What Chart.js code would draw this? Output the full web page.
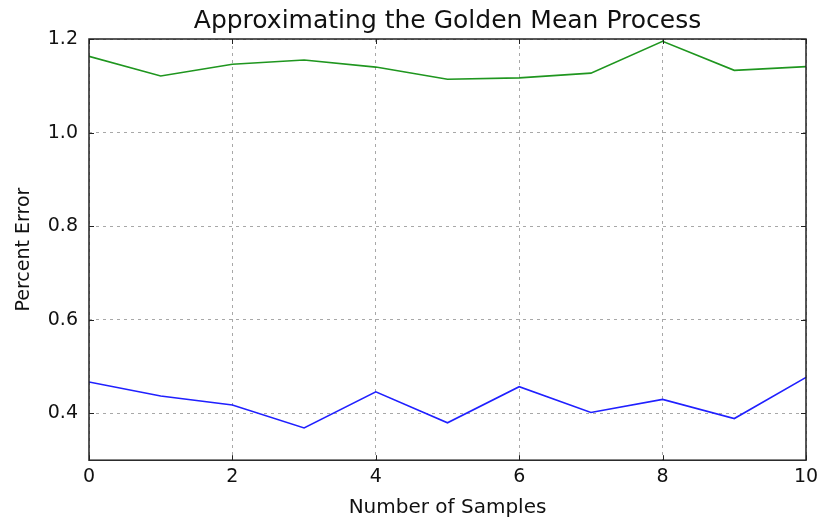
<!DOCTYPE html>
<html>
<head>
<meta charset="utf-8">
<script src="https://cdn.jsdelivr.net/npm/chart.js@4/dist/chart.umd.min.js"></script>
<style>
    html, body { margin: 0; padding: 0; background: #fff; }
    #wrap { width: 819px; height: 521px; }
</style>
</head>
<body>
<div id="wrap"><canvas id="chart"></canvas></div>
<script>
// Data
const samples = [0, 1, 2, 3, 4, 5, 6, 7, 8, 9, 10];
const greenErr = [1.163, 1.121, 1.146, 1.155, 1.140, 1.114, 1.117, 1.127, 1.195, 1.133, 1.141];
const blueErr = [0.467, 0.437, 0.418, 0.369, 0.446, 0.380, 0.457, 0.402, 0.430, 0.389, 0.477];
const xTicks = [0, 2, 4, 6, 8, 10];
const yTicks = [0.4, 0.6, 0.8, 1.0, 1.2];

const FONT = "'DejaVu Sans', sans-serif";

// Frame + inward tick marks, matplotlib style
const framePlugin = {
    id: 'frame',
    afterDraw(chart) {
        const { ctx, chartArea: a, scales } = chart;
        ctx.save();
        ctx.strokeStyle = '#222';
        ctx.lineWidth = 1.5;
        ctx.strokeRect(a.left, a.top, a.right - a.left, a.bottom - a.top);
        ctx.lineWidth = 1;
        ctx.beginPath();
        xTicks.forEach(v => {
            const px = Math.round(scales.x.getPixelForValue(v)) + 0.5;
            ctx.moveTo(px, a.bottom); ctx.lineTo(px, a.bottom - 5);
            ctx.moveTo(px, a.top); ctx.lineTo(px, a.top + 5);
        });
        yTicks.forEach(v => {
            const py = Math.round(scales.y.getPixelForValue(v)) + 0.5;
            ctx.moveTo(a.left, py); ctx.lineTo(a.left + 5, py);
            ctx.moveTo(a.right, py); ctx.lineTo(a.right - 5, py);
        });
        ctx.stroke();
        ctx.restore();
    }
};

const gridStyle = {
    color: '#a8a8a8',
    lineWidth: 1,
    drawTicks: false
};

new Chart(document.getElementById('chart'), {
    type: 'line',
    data: {
        datasets: [
            {
                data: samples.map((x, i) => ({ x, y: blueErr[i] })),
                borderColor: '#2020ff',
                borderWidth: 1.6,
                pointRadius: 0,
                tension: 0
            },
            {
                data: samples.map((x, i) => ({ x, y: greenErr[i] })),
                borderColor: '#1f961f',
                borderWidth: 1.6,
                pointRadius: 0,
                tension: 0
            }
        ]
    },
    options: {
        responsive: true,
        maintainAspectRatio: false,
        animation: false,
        layout: { padding: { top: 0, right: 13, left: 10, bottom: 1 } },
        plugins: {
            legend: { display: false },
            tooltip: { enabled: false },
            title: {
                display: true,
                fullSize: false,
                text: 'Approximating the Golden Mean Process',
                color: '#111',
                font: { family: FONT, size: 25, weight: 'normal' },
                padding: { top: 6, bottom: 3 }
            }
        },
        scales: {
            x: {
                type: 'linear',
                min: 0,
                max: 10,
                afterBuildTicks: axis => { axis.ticks = xTicks.map(v => ({ value: v })); },
                afterFit: axis => { axis.paddingLeft = 0; axis.paddingRight = 0; },
                grid: gridStyle,
                border: { display: false, dash: [3, 4] },
                ticks: { color: '#111', font: { family: FONT, size: 19 }, padding: 5, maxRotation: 0 },
                title: {
                    display: true,
                    text: 'Number of Samples',
                    color: '#111',
                    font: { family: FONT, size: 20 },
                    padding: { top: 3, bottom: 0 }
                }
            },
            y: {
                type: 'linear',
                min: 0.3,
                max: 1.2,
                afterBuildTicks: axis => { axis.ticks = yTicks.map(v => ({ value: v })); },
                afterFit: axis => { axis.width = 79; },
                grid: gridStyle,
                border: { display: false, dash: [3, 4] },
                ticks: {
                    color: '#111',
                    font: { family: FONT, size: 19 },
                    padding: 11,
                    callback: v => v.toFixed(1)
                },
                title: {
                    display: true,
                    text: 'Percent Error',
                    color: '#111',
                    font: { family: FONT, size: 19 },
                    padding: { top: 3, bottom: 8 }
                }
            }
        }
    },
    plugins: [framePlugin]
});
</script>
</body>
</html>
